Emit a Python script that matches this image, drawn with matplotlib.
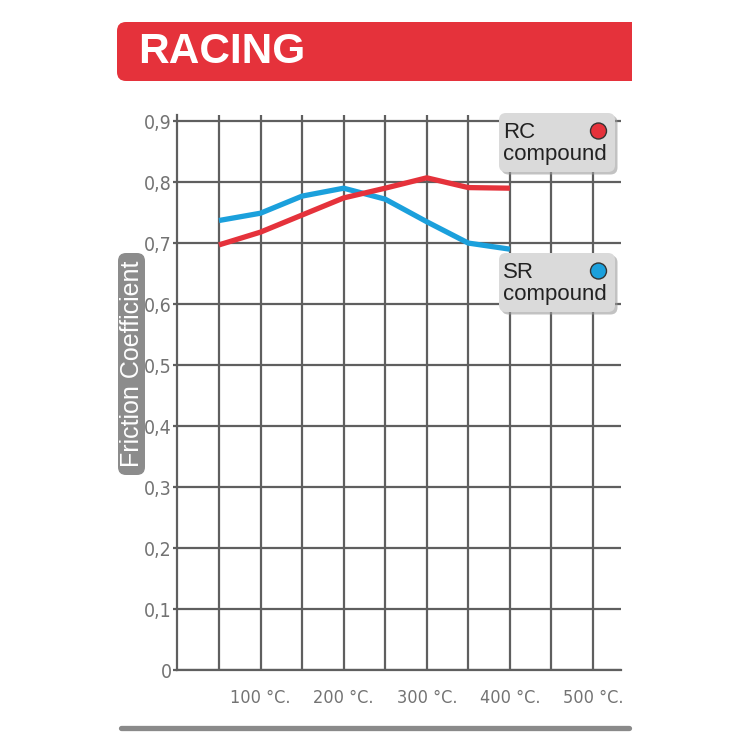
import matplotlib
matplotlib.use("Agg")
from matplotlib import pyplot as plt
from matplotlib import font_manager
from matplotlib.patches import FancyBboxPatch, Rectangle, Circle

# data
temps = [50, 100, 150, 200, 250, 300, 350, 400]
rc_compound = [0.697, 0.718, 0.746, 0.774, 0.790, 0.807, 0.791, 0.790]
sr_compound = [0.737, 0.749, 0.777, 0.790, 0.772, 0.735, 0.700, 0.690]

grid_x = [50, 100, 150, 200, 250, 300, 350, 400, 450, 500]
x_labels = ["", "100 °C.", "", "200 °C.", "", "300 °C.", "", "400 °C.", "", "500 °C."]
y_ticks = [0, 0.1, 0.2, 0.3, 0.4, 0.5, 0.6, 0.7, 0.8, 0.9]
y_labels = ["0", "0,1", "0,2", "0,3", "0,4", "0,5", "0,6", "0,7", "0,8", "0,9"]

RED = "#e5323b"
BLUE = "#1ba0dc"
GRID = "#5f5f5f"
TICK = "#737373"
SANS = ["Liberation Sans", "DejaVu Sans"]

# narrow face for the tick labels if one is around
tick_font = font_manager.FontProperties(family="Liberation Sans Narrow")
if "Narrow" not in font_manager.findfont(tick_font, fallback_to_default=True):
    tick_font = font_manager.FontProperties(family="DejaVu Sans", stretch="condensed")
    if "Condensed" not in font_manager.findfont(tick_font, fallback_to_default=True):
        tick_font = font_manager.FontProperties(family="Liberation Sans")
narrow = "Narrow" in font_manager.findfont(tick_font) or "Condensed" in font_manager.findfont(tick_font)

W = 750
fig = plt.figure(figsize=(7.5, 7.5), dpi=100)
fig.patch.set_facecolor("white")

# main chart, placed in pixels
left, right, bottom, top = 177.4, 621, 670, 115
ax = fig.add_axes([left / W, 1 - bottom / W, (right - left) / W, (bottom - top) / W])
ax.set_xlim(0, 533.7)
ax.set_ylim(0, 0.91)

ax.set_xticks(grid_x)
ax.set_xticklabels(x_labels, fontproperties=tick_font, fontsize=13 if narrow else 12, color=TICK)
ax.set_yticks(y_ticks)
ax.set_yticklabels(y_labels, fontproperties=tick_font, fontsize=14 if narrow else 13.5, color=TICK)
ax.tick_params(axis="x", length=0, pad=14)
ax.tick_params(axis="y", length=3, width=1.6, color=GRID, pad=1)
ax.grid(True, color=GRID, linewidth=1.6)
ax.set_axisbelow(True)
for s in ["top", "right"]:
    ax.spines[s].set_visible(False)
for s in ["left", "bottom"]:
    ax.spines[s].set_color(GRID)
    ax.spines[s].set_linewidth(1.6)

ax.plot(temps, sr_compound, color=BLUE, linewidth=3.8, solid_joinstyle="round", solid_capstyle="butt", zorder=3)
ax.plot(temps, rc_compound, color=RED, linewidth=3.8, solid_joinstyle="round", solid_capstyle="butt", zorder=4)

# overlay in pixel coordinates for decorations
ov = fig.add_axes([0, 0, 1, 1], zorder=5)
ov.set_xlim(0, W)
ov.set_ylim(W, 0)
ov.axis("off")
ov.patch.set_alpha(0)

# title banner
ov.add_patch(FancyBboxPatch((117, 22), 515, 59, boxstyle="round,pad=0,rounding_size=9",
                            facecolor=RED, edgecolor="none"))
ov.add_patch(Rectangle((300, 22), 332, 59, facecolor=RED, edgecolor="none"))
ov.text(138, 52, "RACING", color="white", fontsize=30.5, fontweight="heavy",
        family=SANS, va="center", ha="left")

# y label box
ov.add_patch(FancyBboxPatch((118, 253), 27, 222, boxstyle="round,pad=0,rounding_size=8",
                            facecolor="#8c8c8c", edgecolor="none"))
ov.text(132, 364, "Friction Coefficient", color="white", fontsize=18, family=SANS,
        rotation=90, ha="center", va="center")

# legend boxes
for y0, name, col in [(113, "RC", RED), (253, "SR", BLUE)]:
    ov.add_patch(FancyBboxPatch((501.5, y0 + 2.5), 116, 59, boxstyle="round,pad=0,rounding_size=7",
                                facecolor="#9a9a9a", edgecolor="none", alpha=0.6))
    ov.add_patch(FancyBboxPatch((499, y0), 116, 59, boxstyle="round,pad=0,rounding_size=7",
                                facecolor="#dadada", edgecolor="none"))
    ov.text(503, y0 + 25, name, color="#222222", fontsize=16, family=SANS, va="baseline")
    ov.text(503, y0 + 47, "compound", color="#222222", fontsize=16, family=SANS, va="baseline")
    ov.add_patch(Circle((598.5, y0 + 18), 8, facecolor=col, edgecolor="#333333", linewidth=1))

# bottom bar
ov.plot([121, 629], [727.5, 727.5], color="#8a8a8a", linewidth=3.8, solid_capstyle="round")

fig.savefig("out.png", dpi=100, facecolor="white")
